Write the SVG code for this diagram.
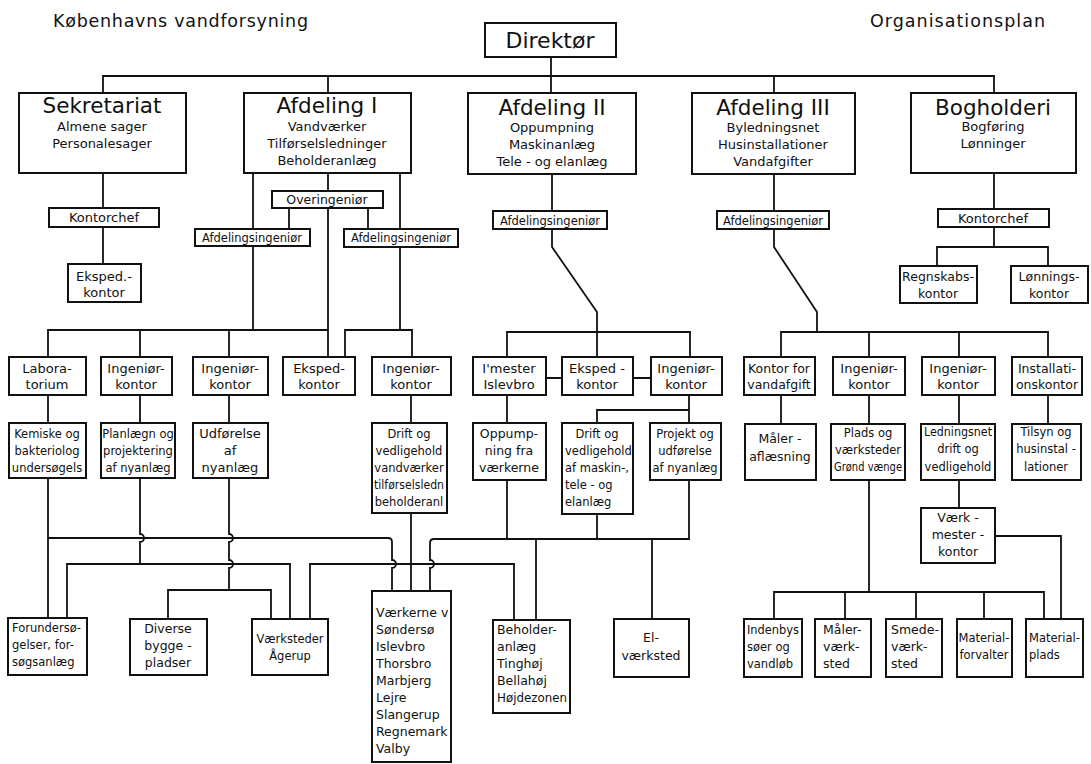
<svg xmlns="http://www.w3.org/2000/svg" width="1091" height="764" viewBox="0 0 1091 764">
<style>
.bx{fill:#fff;stroke:#111;stroke-width:2}
.c{fill:none;stroke:#111;stroke-width:1.8}
text{font-family:"DejaVu Sans","Liberation Sans",sans-serif;fill:#111}
.m{text-anchor:middle}
.hd{font-size:17.5px}
.h{font-size:21.5px}
.s{font-size:13px}
.r{font-size:12.5px}
.q{font-size:11.5px}
</style>
<rect width="1091" height="764" fill="#fff"/>
<g id="headers">
<text class="hd" x="53" y="27" textLength="255" lengthAdjust="spacing">Københavns vandforsyning</text>
<text class="hd" x="870" y="27" textLength="175" lengthAdjust="spacing">Organisationsplan</text>
</g>
<g id="connectors" class="c">
<path d="M551,57V93M103,93V76H994V93M328,76V93M774,76V93"/>
<path d="M103,173V208M103,227V264"/>
<path d="M253,173V229M328,173V191M400,174V229M289,208V229M368,208V229M328,208V357"/>
<path d="M253,246V330M48,357V330H328M140,330V357M229,330V357"/>
<path d="M400,247V330M345,357V330H412V357"/>
<path d="M552,174V211M552,229V247L597,312V357M507,357V332H690V357M546,378H562M633,378H651"/>
<path d="M774,174V211M774,229V247L817,312V332M781,357V332H1048V357M869,332V357M959,332V357"/>
<path d="M994,173V209M994,227V247M937,266V247H1048V266"/>
<path d="M48,395V423M140,395V423M229,395V423M411,395V423M507,395V423M689,395V423M689,410H597V423"/>
<path d="M781,395V424M869,395V424M959,395V424M1048,395V424M959,480V508"/>
<path d="M48,478V618M48,538H388Q392,538 392,542V560a4,4 0 0 1 0,8V591"/>
<path d="M140,478V534a4,4 0 0 1 0,8V564M67,618V564H290V619"/>
<path d="M229,478V534a4,4 0 0 1 0,8V560a4,4 0 0 1 0,8V590M168,619V590H271V619"/>
<path d="M411,513V591M310,619V564H514V620"/>
<path d="M689,480V539H434Q430,539 430,543V560a4,4 0 0 1 0,8V591M507,480V539M597,514V539M536,539V620M652,539V619"/>
<path d="M869,480V592M774,619V592H1044V619M845,592V619M916,592V619M984,592V619M995,536H1061V619"/>
</g>
<g id="direktor"><rect class="bx" x="485" y="23" width="131" height="34"/><text class="m" style="font-size:22px" x="550" y="48">Direktør</text></g>
<g id="sekretariat"><rect class="bx" x="19" y="93" width="167" height="80"/><text class="m h" x="102" y="113">Sekretariat</text><text class="m s" x="102" y="131">Almene sager</text><text class="m s" x="102" y="148">Personalesager</text></g>
<g id="afd1"><rect class="bx" x="244" y="93" width="167" height="80"/><text class="m h" x="327" y="113">Afdeling I</text><text class="m s" x="327" y="131">Vandværker</text><text class="m s" x="327" y="148">Tilførselsledninger</text><text class="m s" x="327" y="165">Beholderanlæg</text></g>
<g id="afd2"><rect class="bx" x="468" y="93" width="168" height="81"/><text class="m h" x="552" y="115">Afdeling II</text><text class="m s" x="552" y="132">Oppumpning</text><text class="m s" x="552" y="149">Maskinanlæg</text><text class="m s" x="552" y="166">Tele - og elanlæg</text></g>
<g id="afd3"><rect class="bx" x="692" y="93" width="163" height="81"/><text class="m h" x="773" y="115">Afdeling III</text><text class="m s" x="773" y="132">Byledningsnet</text><text class="m s" x="773" y="149">Husinstallationer</text><text class="m s" x="773" y="166">Vandafgifter</text></g>
<g id="bogholderi"><rect class="bx" x="911" y="93" width="165" height="80"/><text class="m h" x="993" y="115">Bogholderi</text><text class="m s" x="993" y="131">Bogføring</text><text class="m s" x="993" y="148">Lønninger</text></g>
<g id="kontorchef1"><rect class="bx" x="49" y="208" width="110" height="19"/><text class="m s" x="104" y="222">Kontorchef</text></g>
<g id="eksped-sek"><rect class="bx" x="68" y="264" width="73" height="38"/><text class="m s" x="104" y="281">Eksped.-</text><text class="m s" x="104" y="297">kontor</text></g>
<g id="overingenior"><rect class="bx" x="272" y="191" width="111" height="17"/><text class="m r" x="327" y="204">Overingeniør</text></g>
<g id="afding1a"><rect class="bx" x="195" y="229" width="115" height="17"/><text class="m q" x="252" y="242">Afdelingsingeniør</text></g>
<g id="afding1b"><rect class="bx" x="344" y="229" width="114" height="18"/><text class="m q" x="401" y="242">Afdelingsingeniør</text></g>
<g id="afding2"><rect class="bx" x="493" y="211" width="114" height="18"/><text class="m q" x="550" y="225">Afdelingsingeniør</text></g>
<g id="afding3"><rect class="bx" x="717" y="211" width="112" height="18"/><text class="m q" x="773" y="225">Afdelingsingeniør</text></g>
<g id="kontorchef2"><rect class="bx" x="938" y="209" width="111" height="18"/><text class="m s" x="993" y="223">Kontorchef</text></g>
<g id="regnskabs"><rect class="bx" x="900" y="266" width="77" height="37"/><text class="m r" x="938" y="281">Regnskabs-</text><text class="m r" x="938" y="298">kontor</text></g>
<g id="lonnings"><rect class="bx" x="1011" y="266" width="77" height="37"/><text class="m r" x="1049" y="281">Lønnings-</text><text class="m r" x="1049" y="298">kontor</text></g>
<g id="laboratorium"><rect class="bx" x="9" y="357" width="77" height="38"/><text class="m s" x="47" y="373">Labora-</text><text class="m s" x="47" y="389">torium</text></g>
<g id="ingkontor1"><rect class="bx" x="101" y="357" width="71" height="38"/><text class="m s" x="136" y="373">Ingeniør-</text><text class="m s" x="136" y="389">kontor</text></g>
<g id="ingkontor2"><rect class="bx" x="193" y="357" width="75" height="38"/><text class="m s" x="230" y="373">Ingeniør-</text><text class="m s" x="230" y="389">kontor</text></g>
<g id="eksped1"><rect class="bx" x="283" y="357" width="72" height="38"/><text class="m s" x="319" y="373">Eksped-</text><text class="m s" x="319" y="389">kontor</text></g>
<g id="ingkontor3"><rect class="bx" x="372" y="357" width="79" height="38"/><text class="m s" x="411" y="373">Ingeniør-</text><text class="m s" x="411" y="389">kontor</text></g>
<g id="imester"><rect class="bx" x="473" y="357" width="73" height="38"/><text class="m s" x="509" y="373">I'mester</text><text class="m s" x="509" y="389">Islevbro</text></g>
<g id="eksped2"><rect class="bx" x="562" y="357" width="71" height="38"/><text class="m s" x="597" y="373">Eksped -</text><text class="m s" x="597" y="389">kontor</text></g>
<g id="ingkontor4"><rect class="bx" x="651" y="357" width="71" height="38"/><text class="m s" x="686" y="373">Ingeniør-</text><text class="m s" x="686" y="389">kontor</text></g>
<g id="vandafgift"><rect class="bx" x="744" y="357" width="71" height="38"/><text class="m r" x="779" y="373">Kontor for</text><text class="m r" x="779" y="389">vandafgift</text></g>
<g id="ingkontor5"><rect class="bx" x="833" y="357" width="72" height="38"/><text class="m s" x="869" y="373">Ingeniør-</text><text class="m s" x="869" y="389">kontor</text></g>
<g id="ingkontor6"><rect class="bx" x="922" y="357" width="73" height="38"/><text class="m s" x="958" y="373">Ingeniør-</text><text class="m s" x="958" y="389">kontor</text></g>
<g id="installation"><rect class="bx" x="1012" y="357" width="70" height="38"/><text class="m r" x="1047" y="373">Installati-</text><text class="m r" x="1047" y="389">onskontor</text></g>
<g id="kemiske"><rect class="bx" x="9" y="423" width="77" height="55"/><text class="m q" x="47" y="438">Kemiske og</text><text class="m q" x="47" y="455">bakteriolog</text><text class="m q" x="47" y="472">undersøgels</text></g>
<g id="planlaegn"><rect class="bx" x="101" y="423" width="74" height="55"/><text class="m q" x="138" y="438">Planlægn og</text><text class="m q" x="138" y="455">projektering</text><text class="m q" x="138" y="472">af nyanlæg</text></g>
<g id="udforelse"><rect class="bx" x="193" y="423" width="75" height="55"/><text class="m s" x="230" y="438">Udførelse</text><text class="m s" x="230" y="455">af</text><text class="m s" x="230" y="472">nyanlæg</text></g>
<g id="drift-vv"><rect class="bx" x="372" y="423" width="75" height="90"/><text class="m q" x="409" y="438">Drift og</text><text class="m q" x="409" y="455">vedligehold</text><text class="m q" x="409" y="472">vandværker</text><text class="m q" x="409" y="489" textLength="70" lengthAdjust="spacingAndGlyphs">tilførselsledn</text><text class="m q" x="409" y="506">beholderanl</text></g>
<g id="oppumpning"><rect class="bx" x="473" y="423" width="73" height="57"/><text class="m r" x="509" y="438">Oppump-</text><text class="m r" x="509" y="455">ning fra</text><text class="m r" x="509" y="472">værkerne</text></g>
<g id="drift-maskin"><rect class="bx" x="562" y="423" width="71" height="91"/><text class="m q" x="597" y="438">Drift og</text><text class="q" x="565" y="455">vedligehold</text><text class="q" x="565" y="472">af maskin-,</text><text class="q" x="565" y="489">tele - og</text><text class="q" x="565" y="506">elanlæg</text></g>
<g id="projekt"><rect class="bx" x="650" y="423" width="71" height="57"/><text class="m q" x="685" y="438">Projekt og</text><text class="m q" x="685" y="455">udførelse</text><text class="m q" x="685" y="472">af nyanlæg</text></g>
<g id="maleraflaesning"><rect class="bx" x="745" y="424" width="71" height="56"/><text class="m r" x="780" y="443">Måler -</text><text class="m r" x="780" y="461">aflæsning</text></g>
<g id="plads"><rect class="bx" x="831" y="424" width="74" height="56"/><text class="m q" x="868" y="437">Plads og</text><text class="m q" x="868" y="454">værksteder</text><text class="m q" x="868" y="471" textLength="68" lengthAdjust="spacingAndGlyphs">Grønd vænge</text></g>
<g id="ledningsnet"><rect class="bx" x="921" y="424" width="74" height="56"/><text class="m q" x="958" y="436" textLength="68" lengthAdjust="spacingAndGlyphs">Ledningsnet</text><text class="m q" x="958" y="453">drift og</text><text class="m q" x="958" y="471">vedligehold</text></g>
<g id="tilsyn"><rect class="bx" x="1012" y="424" width="69" height="56"/><text class="m q" x="1046" y="436">Tilsyn og</text><text class="m q" x="1046" y="453">husinstal -</text><text class="m q" x="1046" y="471">lationer</text></g>
<g id="vaerkmester"><rect class="bx" x="921" y="508" width="74" height="55"/><text class="m r" x="958" y="522">Værk -</text><text class="m r" x="958" y="539">mester -</text><text class="m r" x="958" y="556">kontor</text></g>
<g id="forundersogelser"><rect class="bx" x="8" y="618" width="79" height="57"/><text class="q" x="12" y="632">Forundersø-</text><text class="q" x="12" y="649">gelser, for-</text><text class="q" x="12" y="666">søgsanlæg</text></g>
<g id="diverse"><rect class="bx" x="130" y="619" width="77" height="56"/><text class="m r" x="168" y="633">Diverse</text><text class="m r" x="168" y="650">bygge -</text><text class="m r" x="168" y="667">pladser</text></g>
<g id="vaerksteder-agerup"><rect class="bx" x="252" y="619" width="76" height="56"/><text class="m q" x="290" y="643">Værksteder</text><text class="m q" x="290" y="660">Ågerup</text></g>
<g id="vaerkerne"><rect class="bx" x="372" y="591" width="79" height="171"/><text class="r" x="376" y="617">Værkerne v</text><text class="r" x="376" y="634">Søndersø</text><text class="r" x="376" y="651">Islevbro</text><text class="r" x="376" y="668">Thorsbro</text><text class="r" x="376" y="685">Marbjerg</text><text class="r" x="376" y="702">Lejre</text><text class="r" x="376" y="719">Slangerup</text><text class="r" x="376" y="736">Regnemark</text><text class="r" x="376" y="753">Valby</text></g>
<g id="beholderanlaeg"><rect class="bx" x="493" y="620" width="77" height="93"/><text class="r" x="497" y="634">Beholder-</text><text class="r" x="497" y="651">anlæg</text><text class="r" x="497" y="668">Tinghøj</text><text class="r" x="497" y="685">Bellahøj</text><text class="r" x="497" y="702" textLength="70" lengthAdjust="spacingAndGlyphs">Højdezonen</text></g>
<g id="elvaerksted"><rect class="bx" x="614" y="619" width="75" height="58"/><text class="m r" x="651" y="642">El-</text><text class="m r" x="651" y="660">værksted</text></g>
<g id="indenbys"><rect class="bx" x="744" y="619" width="58" height="58"/><text class="q" x="747" y="634" textLength="52" lengthAdjust="spacingAndGlyphs">Indenbys</text><text class="q" x="747" y="651">søer og</text><text class="q" x="747" y="668">vandløb</text></g>
<g id="maalervaerksted"><rect class="bx" x="815" y="619" width="56" height="58"/><text class="r" x="823" y="634">Måler-</text><text class="r" x="823" y="651">værk-</text><text class="r" x="823" y="668">sted</text></g>
<g id="smedevaerksted"><rect class="bx" x="886" y="619" width="56" height="58"/><text class="r" x="891" y="634">Smede-</text><text class="r" x="891" y="651">værk-</text><text class="r" x="891" y="668">sted</text></g>
<g id="materialforvalter"><rect class="bx" x="957" y="619" width="55" height="58"/><text class="m q" x="984" y="642">Material-</text><text class="m q" x="984" y="659">forvalter</text></g>
<g id="materialplads"><rect class="bx" x="1026" y="619" width="57" height="58"/><text class="q" x="1029" y="642">Material-</text><text class="q" x="1029" y="659">plads</text></g>
</svg>
